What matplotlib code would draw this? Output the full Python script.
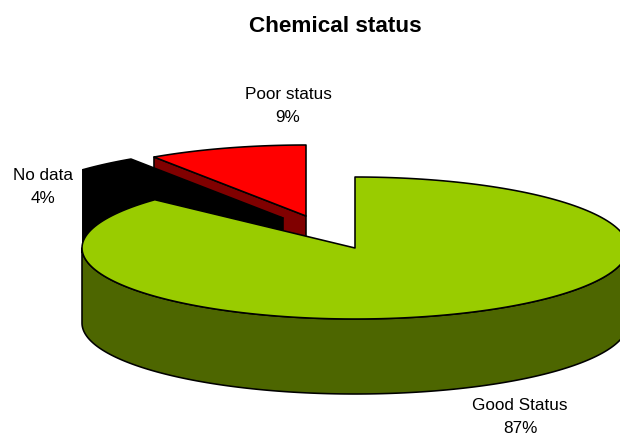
import numpy as np
import matplotlib
matplotlib.use("Agg")
import matplotlib.pyplot as plt

title = "Chemical status"
categories = ["Good Status", "No data", "Poor status"]
shares = [86.9, 3.7, 9.4]          # clockwise from 12 o'clock
percent_labels = ["87%", "4%", "9%"]
top_colors = ["#99CC00", "#000000", "#FF0000"]
side_colors = ["#4D6600", "#000000", "#800000"]
apexes = [(355, 248), (283, 218), (306, 216)]   # exploded slice centres, in pixels
label_pos = [(520, 417), (43, 187), (288, 106)]

RX, RY, DEPTH = 273, 71, 75

plt.rcParams["font.family"] = ["Liberation Sans", "DejaVu Sans"]
fig = plt.figure(figsize=(6.2, 4.34), dpi=100)
ax = fig.add_axes([0, 0, 1, 1])
ax.set_xlim(0, 620)
ax.set_ylim(434, 0)
ax.axis("off")


def rim(cx, cy, a0, a1, n=200):
    t = np.radians(np.linspace(a0, a1, n))
    return np.column_stack([cx + RX * np.sin(t), cy - RY * np.cos(t)])


def poly(pts, color):
    ax.fill(pts[:, 0], pts[:, 1], facecolor=color, edgecolor="black",
            linewidth=1.15, joinstyle="round")


bounds = np.cumsum([0] + shares) / sum(shares) * 360
# painter's order: farthest slices first
for i in [2, 1, 0]:
    a0, a1 = bounds[i], bounds[i + 1]
    cx, cy = apexes[i]
    top = rim(cx, cy, a0, a1)
    apex = np.array([[cx, cy]])
    down = np.array([0, DEPTH])
    # visible cut face at the slice's starting angle (hidden for the first slice)
    if 90 < a0 < 360:
        start = top[0]
        face = np.array([start, apex[0], apex[0] + down, start + down])
        poly(face, side_colors[i])
    # visible outer wall: the front half of the ellipse
    f0, f1 = max(a0, 90), min(a1, 270)
    if f0 < f1:
        front = rim(cx, cy, f0, f1)
        poly(np.vstack([front, (front + down)[::-1]]), side_colors[i])
    poly(np.vstack([apex, top]), top_colors[i])

for name, pct, (x, y) in zip(categories, percent_labels, label_pos):
    ax.text(x, y, f"{name}\n{pct}", ha="center", va="center", fontsize=12.3,
            linespacing=1.7, color="black")
ax.text(335, 26, title, ha="center", va="center", fontsize=16.2,
        fontweight="bold", color="black")

fig.savefig("out.png", dpi=100, facecolor="white")
